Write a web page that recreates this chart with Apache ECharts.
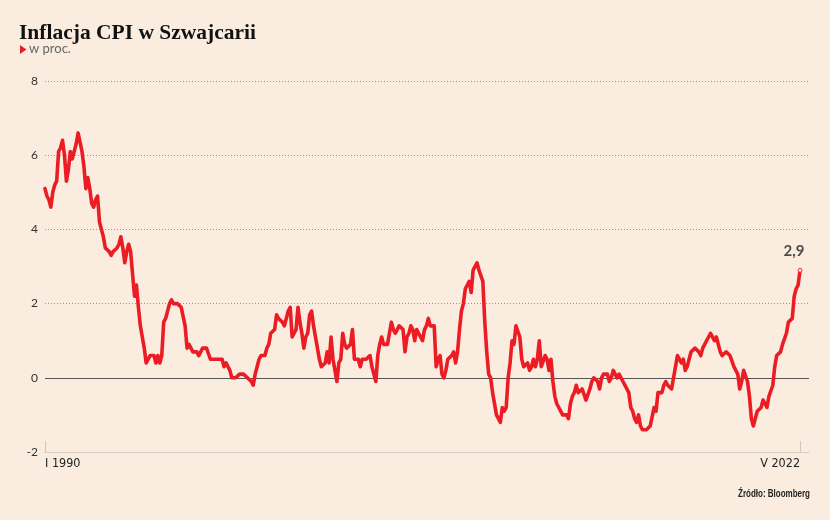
<!DOCTYPE html>
<html>
<head>
<meta charset="utf-8">
<script src="https://cdn.jsdelivr.net/npm/echarts@6/dist/echarts.min.js"></script>
<style>
html,body{margin:0;padding:0;background:#FAEDE0;}
#c{width:830px;height:520px;}
</style>
</head>
<body>
<div id="c"></div>
<script>
// Monthly CPI y/y, % (Jan 1990 - May 2022)
var startYear = 1990;
var monthRoman = ['I','II','III','IV','V','VI','VII','VIII','IX','X','XI','XII'];
var cpi1990s = [
  5.1, 4.9, 4.8, 4.6, 5.0, 5.2, 5.3, 6.1, 6.2, 6.4, 6.0, 5.3,
  5.6, 6.1, 5.9, 5.9, 6.3, 6.6, 6.6, 6.1, 5.7, 5.1, 5.4, 5.1,
  4.7, 4.6, 4.8, 4.9, 4.2, 4.0, 3.8, 3.5, 3.5, 3.4, 3.3, 3.4,
  3.4, 3.5, 3.6, 3.8, 3.5, 3.1, 3.4, 3.6, 3.4, 3.4, 2.2, 2.5,
  1.9, 1.4, 1.1, 0.8, 0.4, 0.5, 0.6, 0.6, 0.6, 0.4, 0.6, 0.4,
  0.6, 1.5, 1.6, 1.6, 2.0, 2.1, 2.0, 2.0, 2.0, 2.0, 1.9, 1.9,
  1.4, 0.8, 0.9, 0.8, 0.7, 0.7, 0.7, 0.6, 0.7, 0.8, 0.8, 0.8,
  0.8, 0.5, 0.5, 0.5, 0.5, 0.5, 0.5, 0.5, 0.3, 0.4, 0.4, 0.2,
  0.0, 0.0, 0.0, 0.0, 0.1, 0.1, 0.1, 0.1, 0.0, 0.0, -0.1, -0.2,
  0.1, 0.3, 0.5, 0.6, 0.6, 0.6, 0.8, 0.9, 1.2, 1.2, 1.3, 1.7
];
var cpi2000s = [
  1.6, 1.6, 1.5, 1.4, 1.6, 1.8, 1.9, 1.1, 1.2, 1.3, 1.9, 1.5,
  1.2, 0.8, 1.1, 1.2, 1.7, 1.8, 1.4, 1.1, 0.8, 0.5, 0.3, 0.3,
  0.4, 0.7, 0.4, 1.1, 0.5, 0.2, -0.1, 0.4, 0.5, 1.2, 0.9, 0.8,
  0.8, 0.9, 1.3, 0.5, 0.5, 0.5, 0.3, 0.5, 0.5, 0.5, 0.5, 0.6,
  0.3, 0.1, -0.1, 0.6, 0.9, 1.1, 0.9, 0.9, 0.9, 0.9, 1.5, 1.3,
  1.2, 1.3, 1.4, 1.4, 1.3, 0.7, 1.1, 1.2, 1.4, 1.3, 1.0, 1.3,
  1.3, 1.1, 1.0, 1.3, 1.4, 1.6, 1.4, 1.4, 1.4, 0.3, 0.5, 0.6,
  0.1, 0.0, 0.2, 0.5, 0.5, 0.6, 0.7, 0.4, 0.7, 1.3, 1.8, 2.0,
  2.4, 2.4, 2.6, 2.3, 2.9, 2.9, 3.1, 2.9, 2.9, 2.6, 1.5, 0.7,
  0.1, 0.0, -0.4, -0.4, -1.0, -1.0, -1.2, -0.8, -0.9, -0.8, 0.0, 0.4
];
var cpi2010s = [
  1.0, 0.9, 1.4, 1.4, 1.1, 0.5, 0.3, 0.3, 0.4, 0.2, 0.3, 0.5,
  0.3, 0.5, 1.0, 0.3, 0.3, 0.6, 0.5, 0.2, 0.5, -0.1, -0.5, -0.7,
  -0.8, -0.9, -1.0, -1.0, -1.0, -1.1, -0.7, -0.5, -0.4, -0.2, -0.4, -0.4,
  -0.3, -0.3, -0.6, -0.6, -0.3, -0.1, 0.0, 0.0, -0.1, -0.3, 0.0, 0.1,
  0.1, 0.1, -0.1, 0.0, 0.2, 0.1, 0.0, 0.1, 0.0, -0.1, -0.1, -0.3,
  -0.4, -0.8, -0.9, -1.1, -1.2, -1.0, -1.3, -1.4, -1.4, -1.4, -1.4, -1.3,
  -1.3, -0.8, -0.9, -0.4, -0.4, -0.4, -0.2, -0.1, -0.2, -0.2, -0.3, 0.0,
  0.3, 0.6, 0.6, 0.4, 0.5, 0.2, 0.3, 0.5, 0.7, 0.7, 0.8, 0.8,
  0.7, 0.6, 0.8, 0.8, 1.0, 1.1, 1.2, 1.2, 1.0, 1.1, 0.9, 0.7,
  0.6, 0.6, 0.7, 0.7, 0.6, 0.6, 0.3, 0.3, 0.1, -0.3, -0.1, 0.2
];
var cpi2020s = [
  0.2, -0.1, -0.5, -1.1, -1.3, -1.3, -0.9, -0.9, -0.8, -0.6, -0.7, -0.8,
  -0.5, -0.5, -0.2, 0.3, 0.6, 0.6, 0.7, 0.9, 0.9, 1.2, 1.5, 1.5,
  1.6, 2.2, 2.4, 2.5, 2.9
];
var yTicks = [-2, 0, 2, 4, 6, 8];

var values = cpi1990s.concat(cpi2000s, cpi2010s, cpi2020s);
var lineData = values.map(function (v, i) { return [i, v]; });
var lastIdx = values.length - 1;
var lastVal = values[lastIdx];
function monthLabel(i) {
  return monthRoman[i % 12] + ' ' + (startYear + Math.floor(i / 12));
}

var RED = '#EC1C24';
var chart = echarts.init(document.getElementById('c'), null, {renderer: 'canvas'});
chart.setOption({
  backgroundColor: '#FAEDE0',
  animation: false,
  title: {
    text: 'Inflacja CPI w Szwajcarii',
    left: 14, top: 17,
    textStyle: {fontFamily: 'Liberation Serif', fontWeight: 'bold', fontSize: 21.5, color: '#111'}
  },
  graphic: [
    {type: 'polygon', shape: {points: [[20, 45], [26.5, 49.5], [20, 54]]}, style: {fill: RED}},
    {type: 'text', left: 29, top: 42.5, style: {text: 'w proc.', font: '13px Lato', fill: '#666'}},
    {type: 'text', x: 810, y: 489, scaleX: 0.8, style: {text: 'Źródło: Bloomberg', align: 'right', verticalAlign: 'top', font: 'bold 10px "Liberation Sans", sans-serif', fill: '#222'}}
  ],
  grid: {left: 45, right: 21, top: 81, bottom: 68},
  xAxis: {
    type: 'value',
    min: 0,
    max: 392.6,
    splitLine: {show: false},
    axisLine: {show: true, onZero: false, lineStyle: {color: '#d6cdc3', width: 1}},
    axisTick: {show: true, inside: true, length: 11, customValues: [0, lastIdx], lineStyle: {color: '#cfc6bc'}},
    axisLabel: {
      show: true,
      customValues: [0, lastIdx],
      formatter: function (v) { return monthLabel(Math.round(v)); },
      alignMinLabel: 'left',
      alignMaxLabel: 'right',
      margin: 5,
      fontFamily: '"Liberation Sans Narrow", "DejaVu Sans Condensed", sans-serif',
      fontSize: 12.5,
      color: '#222'
    }
  },
  yAxis: {
    type: 'value',
    min: yTicks[0],
    max: yTicks[yTicks.length - 1],
    interval: 2,
    axisLine: {show: false},
    axisTick: {show: false},
    axisLabel: {margin: 7, fontFamily: 'Lato', fontSize: 12, color: '#333'},
    splitLine: {show: true, lineStyle: {color: '#9a9590', type: [1, 2], width: 1}}
  },
  series: [
    {
      type: 'line',
      data: lineData,
      showSymbol: false,
      symbol: 'none',
      lineStyle: {color: RED, width: 3.6, join: 'round', cap: 'round'},
      z: 3,
      markLine: {
        silent: true,
        symbol: 'none',
        label: {show: false},
        lineStyle: {color: '#555', type: 'solid', width: 1},
        data: [{yAxis: 0}],
        z: 2
      }
    },
    {
      type: 'scatter',
      data: [[lastIdx, lastVal]],
      symbol: 'circle',
      symbolSize: 4,
      itemStyle: {color: '#fff', borderColor: RED, borderWidth: 1},
      z: 5,
      label: {
        show: true,
        position: 'top',
        distance: 9,
        offset: [-6, 0],
        formatter: function (p) { return String(p.value[1]).replace('.', ','); },
        fontFamily: 'Lato',
        fontWeight: 'bold',
        fontSize: 15,
        color: '#222'
      }
    }
  ]
});
</script>
</body>
</html>
